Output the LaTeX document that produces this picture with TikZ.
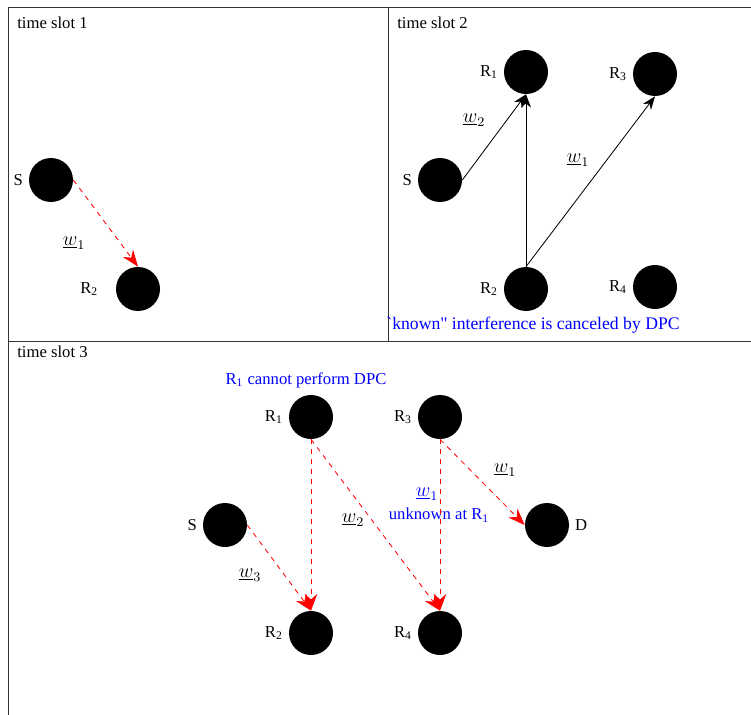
\documentclass[tikz,border=0pt]{standalone}
\usepackage{fontspec}
\setmainfont{Liberation Serif}
\usepackage{xcolor}
\usetikzlibrary{positioning, arrows.meta}

\begin{document}
\begin{tikzpicture}[
      x=0.6pt, y=-0.6pt,
      station/.style={
        circle,
        fill=black,
        minimum size=26.4pt,
        inner sep=0pt,
        label distance=1.5pt
      },
      note/.style={blue, inner sep=0pt},
      weight/.style={inner sep=0pt, font=\large},
      slot/.style={anchor=base west, inner sep=0pt},
      link/.style={draw, line width=0.5pt, -{Stealth[length=8pt, width=6pt]}},
      interf/.style={draw, red, dashed, line width=0.5pt, -{Stealth[length=10pt, width=7.5pt]}},
      frame/.style={draw=black!80, line width=0.6pt}
    ]
    \useasboundingbox (0,0) rectangle (751,715);

    % panel borders
    \draw[frame] (8,715) -- (8,8) -- (751,8);
    \draw[frame] (8,341) -- (751,341);
    \draw[frame] (388,8) -- (388,341);

    \node[slot] (t1) at (17,29) {time slot 1};
    \node[slot] (t2) at (397,29) {time slot 2};
    \node[slot] (t3) at (17,357) {time slot 3};

    % time slot 1
    \node[station, label=left:S] (s1) at (51,180) {};
    \node[station, label={[label distance=7pt]left:R\textsubscript{2}}] (r21) at (138,289) {};
    \node[weight] (w11) at (74,243) {$\underline{w}_1$};

    % time slot 2
    \node[station, label=left:S] (s2) at (440,180) {};
    \node[station, label=left:R\textsubscript{1}] (r12) at (526,72) {};
    \node[station, label=left:R\textsubscript{3}] (r32) at (655,74) {};
    \node[station, label=left:R\textsubscript{2}] (r22) at (526,289) {};
    \node[station, label=left:R\textsubscript{4}] (r42) at (655,287) {};
    \node[weight] (w22) at (474,120) {$\underline{w}_2$};
    \node[weight] (w12) at (578,160) {$\underline{w}_1$};
    \node[note, font=\fontsize{10.6}{12.7}\selectfont] (known) at (533,325) {\textasciigrave known\textquotedbl{} interference is canceled by DPC};

    % time slot 3
    \node[station, label=left:R\textsubscript{1}] (r13) at (311,417) {};
    \node[station, label=left:R\textsubscript{3}] (r33) at (440,417) {};
    \node[station, label=left:S] (s3) at (225,525) {};
    \node[station, label=right:D] (d3) at (547,525) {};
    \node[station, label=left:R\textsubscript{2}] (r23) at (311,633) {};
    \node[station, label=left:R\textsubscript{4}] (r43) at (440,633) {};
    \node[note] (nodpc) at (306,380) {R\textsubscript{1} cannot perform DPC};
    \node[weight] (w13) at (505,470) {$\underline{w}_1$};
    \node[note, font=\large] (w1u) at (427,494) {$\underline{w}_1$};
    \node[note] (unk) at (439,515) {unknown at R\textsubscript{1}};
    \node[weight] (w23) at (353,520) {$\underline{w}_2$};
    \node[weight] (w33) at (250,575) {$\underline{w}_3$};

    \path (s1.east) edge[interf] (r21.north);

    \path (s2.east) edge[link] (r12.south)
          (r22.north) edge[link] (r12.south)
          (r22.north) edge[link] (r32.south);

    \path (r13.south) edge[interf] (r23.north)
          (r13.south) edge[interf] (r43.north)
          (s3.east) edge[interf] (r23.north)
          (r33.south) edge[interf] (r43.north)
          (r33.south) edge[interf] (d3.west);
  \end{tikzpicture}
\end{document}
